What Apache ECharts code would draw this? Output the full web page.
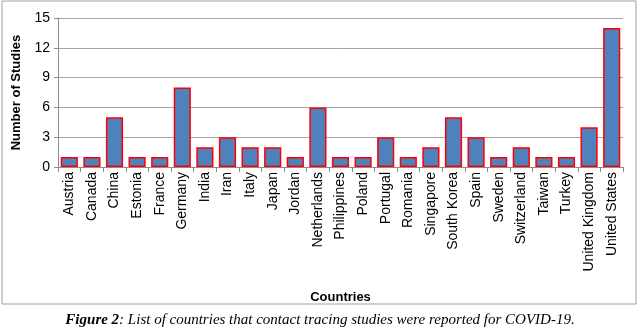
<!DOCTYPE html>
<html><head><meta charset="utf-8">
<script src="https://cdn.jsdelivr.net/npm/echarts@6/dist/echarts.min.js"></script>
<style>html,body{margin:0;padding:0;background:#fff}#c{width:640px;height:331px}</style>
</head><body><div id="c"></div>
<script>
const countries = ["Austria","Canada","China","Estonia","France","Germany","India","Iran","Italy","Japan","Jordan","Netherlands","Philippines","Poland","Portugal","Romania","Singapore","South Korea","Spain","Sweden","Switzerland","Taiwan","Turkey","United Kingdom","United States"];
const studies = [1,1,5,1,1,8,2,3,2,2,1,6,1,1,3,1,2,5,3,1,2,1,1,4,14];
const yTicks = [0,3,6,9,12,15];

const chart = echarts.init(document.getElementById('c'), null, {renderer:'canvas'});
chart.setOption({
  animation:false,
  backgroundColor:'#fff',
  grid:{left:58,right:17,top:18,bottom:164},
  xAxis:{
    type:'category', data:countries,
    axisLine:{lineStyle:{color:'#8c8c8c'}},
    axisTick:{show:true,alignWithLabel:false,length:5,lineStyle:{color:'#8c8c8c'}},
    axisLabel:{rotate:90,interval:0,fontFamily:'Liberation Sans',fontSize:14,color:'#000',margin:5},
    name:'Countries', nameLocation:'middle', nameGap:124,
    nameTextStyle:{fontFamily:'Liberation Sans',fontSize:13,fontWeight:'bold',color:'#000'}
  },
  yAxis:{
    type:'value', min:yTicks[0], max:yTicks[yTicks.length-1], interval:3,
    axisLine:{show:true,lineStyle:{color:'#8c8c8c'}},
    axisTick:{show:true,length:4,lineStyle:{color:'#8c8c8c'}},
    splitLine:{lineStyle:{color:'#a6a6a6',width:1}},
    axisLabel:{fontFamily:'Liberation Sans',fontSize:14,color:'#000',margin:8},
    name:'Number of Studies', nameLocation:'middle', nameGap:35, nameRotate:90,
    nameTextStyle:{fontFamily:'Liberation Sans',fontSize:13,fontWeight:'bold',color:'#000'}
  },
  series:[{
    type:'bar', data:studies, barCategoryGap:'24%',
    itemStyle:{color:'#4f81bd',borderColor:'#ff0000',borderWidth:1.5}
  }],
  graphic:[
    {type:'rect',shape:{x:2,y:1,width:634,height:303},style:{fill:'none',stroke:'#a0a0a0',lineWidth:1},silent:true,z:-1},
    {type:'text',left:'center',top:313,style:{
      text:'{b|Figure 2}{i|: List of countries that contact tracing studies were reported for COVID-19.}',
      rich:{
        b:{fontFamily:'Liberation Serif',fontStyle:'italic',fontWeight:'bold',fontSize:15,fill:'#000'},
        i:{fontFamily:'Liberation Serif',fontStyle:'italic',fontSize:15,fill:'#000'}
      }}}
  ]
});
</script></body></html>
